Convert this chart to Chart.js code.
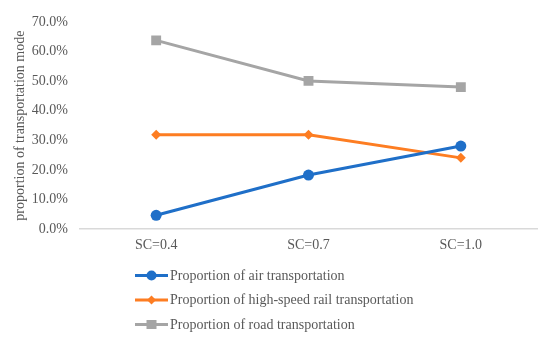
<!DOCTYPE html>
<html>
<head>
<meta charset="utf-8">
<script src="https://cdn.jsdelivr.net/npm/chart.js@4/dist/chart.umd.min.js"></script>
<style>
  body { margin: 0; background: white; }
  #wrap { width: 550px; height: 344px; }
</style>
</head>
<body>
<div id="wrap"><canvas id="myChart"></canvas></div>
<script>
// values
var categories = ["SC=0.4", "SC=0.7", "SC=1.0"];
var airShare = [4.7, 18.3, 28.1];
var railShare = [31.9, 31.9, 24.1];
var roadShare = [63.8, 50.1, 48.0];
var seriesNames = [
    "Proportion of air transportation",
    "Proportion of high-speed rail transportation",
    "Proportion of road transportation"
];

var textColor = "#595959";
var fontFamily = "'Liberation Serif', 'Times New Roman', serif";

// legend is drawn as a vertical list under the axis, like the original
var listLegend = {
    id: "listLegend",
    afterDraw: function(chart) {
        var ctx = chart.ctx;
        var sets = chart.data.datasets;
        ctx.save();
        ctx.font = "14px " + fontFamily;
        ctx.textBaseline = "middle";
        for (var i = 0; i < sets.length; i++) {
            var ds = sets[i];
            var y = 275.5 + i * 24.5;
            ctx.strokeStyle = ds.borderColor;
            ctx.lineWidth = 3;
            ctx.beginPath();
            ctx.moveTo(135, y);
            ctx.lineTo(168, y);
            ctx.stroke();
            ctx.fillStyle = ds.borderColor;
            ctx.beginPath();
            if (ds.pointStyle == "circle") {
                ctx.arc(151.5, y, 5, 0, Math.PI * 2);
            } else if (ds.pointStyle == "rectRot") {
                ctx.moveTo(151.5, y - 4.5); ctx.lineTo(156, y); ctx.lineTo(151.5, y + 4.5); ctx.lineTo(147, y);
                ctx.closePath();
            } else {
                ctx.rect(146.5, y - 4.5, 10, 9);
            }
            ctx.fill();
            ctx.fillStyle = textColor;
            ctx.fillText(ds.label, 170, y + 0.5);
        }
        ctx.restore();
    }
};

Chart.defaults.font.family = fontFamily;
Chart.defaults.font.size = 14;
Chart.defaults.color = textColor;

new Chart(document.getElementById("myChart"), {
    type: "line",
    data: {
        labels: categories,
        datasets: [
            { label: seriesNames[0], data: airShare, borderColor: "#1f6fc8", backgroundColor: "#1f6fc8",
              pointStyle: "circle", pointRadius: 5.5 },
            { label: seriesNames[1], data: railShare, borderColor: "#fd7d22", backgroundColor: "#fd7d22",
              pointStyle: "rectRot", pointRadius: 5 },
            { label: seriesNames[2], data: roadShare, borderColor: "#a5a5a5", backgroundColor: "#a5a5a5",
              pointStyle: "rect", pointRadius: 7 }
        ]
    },
    options: {
        responsive: true,
        maintainAspectRatio: false,
        animation: false,
        devicePixelRatio: 1,
        layout: { padding: { top: 22, right: 13, bottom: 82, left: 10 } },
        elements: { line: { borderWidth: 3, tension: 0 }, point: { borderWidth: 0 } },
        scales: {
            y: {
                min: 0,
                max: 70,
                ticks: {
                    stepSize: 10,
                    padding: 12,
                    callback: function(v) { return v.toFixed(1) + "%"; }
                },
                grid: { display: false, drawTicks: false },
                border: { display: false },
                title: { display: true, text: "proportion of transportation mode", padding: 2 },
                afterFit: function(scale) { scale.width = 70; }
            },
            x: {
                offset: true,
                ticks: { padding: 8 },
                grid: { display: false, drawTicks: false },
                border: { display: true, color: "#d9d9d9", width: 1.5 }
            }
        },
        plugins: {
            legend: { display: false },
            tooltip: { enabled: false }
        }
    },
    plugins: [listLegend]
});
</script>
</body>
</html>
